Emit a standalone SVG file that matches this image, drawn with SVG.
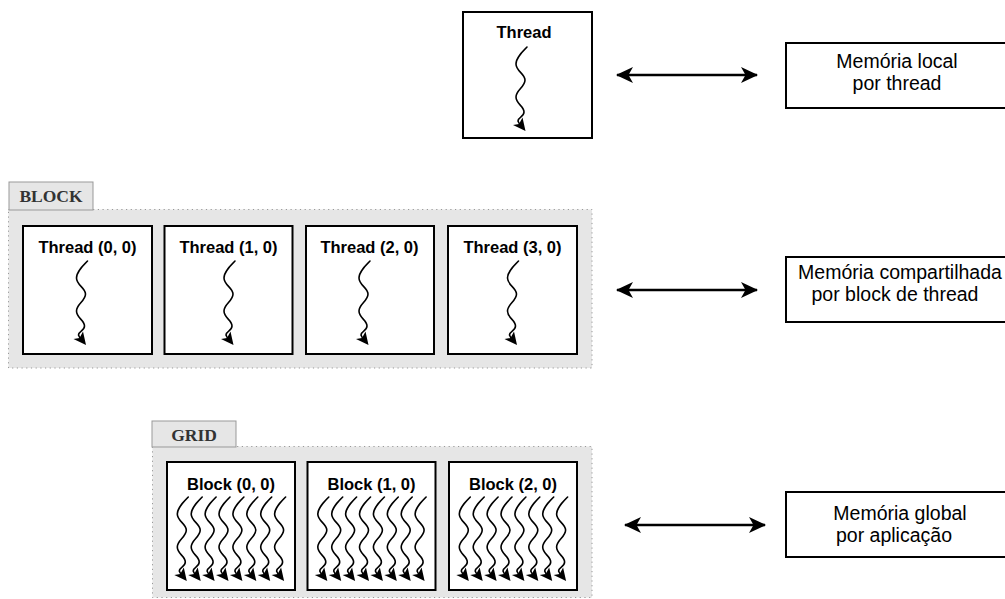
<svg xmlns="http://www.w3.org/2000/svg" xmlns:xlink="http://www.w3.org/1999/xlink" width="1005" height="599" viewBox="0 0 1005 599">
  <style>
    .box { fill: #ffffff; stroke: #000000; stroke-width: 2; }
    .area { fill: #e6e6e6; stroke: #999999; stroke-width: 1; stroke-dasharray: 1.2 3.5; }
    .tab { fill: #e6e6e6; stroke: #999999; stroke-width: 1; }
    .tabtxt { font-family: "Liberation Serif", "Times New Roman", serif; font-weight: bold; font-size: 17.5px; fill: #333333; text-anchor: middle; }
    .lbl { font-family: "Liberation Sans", Arial, sans-serif; font-weight: bold; font-size: 16.5px; fill: #000000; text-anchor: middle; }
    .mem { font-family: "Liberation Sans", Arial, sans-serif; font-size: 19.5px; fill: #000000; text-anchor: middle; }
    .wave { fill: none; stroke: #000000; stroke-width: 1.6; stroke-linecap: round; }
    .link { fill: none; stroke: #000000; stroke-width: 2.5; marker-start: url(#head); marker-end: url(#head); }
  </style>
  <defs>
    <!-- arrowhead for the double-headed memory links -->
    <marker id="head" viewBox="0 0 17 16" refX="16" refY="8" markerWidth="17" markerHeight="16" markerUnits="userSpaceOnUse" orient="auto-start-reverse">
      <path d="M0,0 L17,8 L0,16 L4.5,8 Z" fill="#000000"/>
    </marker>
    <!-- one wavy thread arrow, origin at its top end -->
    <g id="squig">
      <path class="wave" d="M0,0 C-5,5 -11,11 -11,17 C-11,24 -2,27 -2,33 C-2,40 -11,43 -11,50 C-11,57 -3,59 -3,65 C-3,70 -9,70 -9,74 L-7.5,77"/>
      <path d="M-1.5,84 L-14,78 L-8,77 L-4.5,70.5 Z" fill="#000000"/>
    </g>
  </defs>

  <!-- single thread -->
  <g id="thread">
    <rect class="box" x="463" y="12" width="129" height="126"/>
    <text class="lbl" x="524" y="38">Thread</text>
    <use xlink:href="#squig" x="527" y="47"/>
  </g>

  <!-- block of threads -->
  <g id="block">
    <rect class="area" x="8.5" y="209.5" width="583.5" height="158.5"/>
    <rect class="tab" x="9" y="182" width="84" height="28"/>
    <text class="tabtxt" x="51" y="202">BLOCK</text>
  </g>
  <g id="thread-0-0">
    <rect class="box" x="23" y="226" width="129" height="128"/>
    <text class="lbl" x="87.5" y="253">Thread (0, 0)</text>
    <use xlink:href="#squig" x="87.5" y="261"/>
  </g>
  <g id="thread-1-0">
    <rect class="box" x="164.5" y="226" width="128" height="128"/>
    <text class="lbl" x="228.5" y="253">Thread (1, 0)</text>
    <use xlink:href="#squig" x="235" y="261"/>
  </g>
  <g id="thread-2-0">
    <rect class="box" x="306" y="226" width="128" height="128"/>
    <text class="lbl" x="369.5" y="253">Thread (2, 0)</text>
    <use xlink:href="#squig" x="370" y="261"/>
  </g>
  <g id="thread-3-0">
    <rect class="box" x="448" y="226" width="129" height="128"/>
    <text class="lbl" x="512.5" y="253">Thread (3, 0)</text>
    <use xlink:href="#squig" x="518.5" y="261"/>
  </g>

  <!-- grid of blocks -->
  <g id="grid">
    <rect class="area" x="152.5" y="446.5" width="439.5" height="151"/>
    <rect class="tab" x="152" y="421" width="84" height="26"/>
    <text class="tabtxt" x="194" y="441">GRID</text>
  </g>
  <g id="block-0-0">
    <rect class="box" x="167" y="462" width="128" height="128"/>
    <text class="lbl" x="231" y="490">Block (0, 0)</text>
    <use xlink:href="#squig" x="188.3" y="497"/>
    <use xlink:href="#squig" x="202.2" y="497"/>
    <use xlink:href="#squig" x="216.1" y="497"/>
    <use xlink:href="#squig" x="230" y="497"/>
    <use xlink:href="#squig" x="243.9" y="497"/>
    <use xlink:href="#squig" x="257.8" y="497"/>
    <use xlink:href="#squig" x="271.7" y="497"/>
    <use xlink:href="#squig" x="285.6" y="497"/>
  </g>
  <g id="block-1-0">
    <rect class="box" x="307.5" y="462" width="128" height="128"/>
    <text class="lbl" x="371.5" y="490">Block (1, 0)</text>
    <use xlink:href="#squig" x="328.8" y="497"/>
    <use xlink:href="#squig" x="342.7" y="497"/>
    <use xlink:href="#squig" x="356.6" y="497"/>
    <use xlink:href="#squig" x="370.5" y="497"/>
    <use xlink:href="#squig" x="384.4" y="497"/>
    <use xlink:href="#squig" x="398.3" y="497"/>
    <use xlink:href="#squig" x="412.2" y="497"/>
    <use xlink:href="#squig" x="426.1" y="497"/>
  </g>
  <g id="block-2-0">
    <rect class="box" x="449" y="462" width="128" height="128"/>
    <text class="lbl" x="513" y="490">Block (2, 0)</text>
    <use xlink:href="#squig" x="470.3" y="497"/>
    <use xlink:href="#squig" x="484.2" y="497"/>
    <use xlink:href="#squig" x="498.1" y="497"/>
    <use xlink:href="#squig" x="512" y="497"/>
    <use xlink:href="#squig" x="525.9" y="497"/>
    <use xlink:href="#squig" x="539.8" y="497"/>
    <use xlink:href="#squig" x="553.7" y="497"/>
    <use xlink:href="#squig" x="567.6" y="497"/>
  </g>

  <!-- memory spaces -->
  <g id="mem-local">
    <rect class="box" x="786" y="43" width="226" height="65"/>
    <text class="mem" x="897" y="68">Memória local</text>
    <text class="mem" x="897" y="90">por thread</text>
  </g>
  <g id="mem-shared">
    <rect class="box" x="786" y="257" width="226" height="65"/>
    <text class="mem" x="900" y="279">Memória compartilhada</text>
    <text class="mem" x="895" y="301">por block de thread</text>
  </g>
  <g id="mem-global">
    <rect class="box" x="786" y="492" width="226" height="65"/>
    <text class="mem" x="900" y="520">Memória global</text>
    <text class="mem" x="894" y="542">por aplicação</text>
  </g>

  <!-- access links -->
  <g id="connectors">
    <path class="link" d="M617,75 L757,75"/>
    <path class="link" d="M617,290 L757,290"/>
    <path class="link" d="M625,525 L765,525"/>
  </g>
</svg>
